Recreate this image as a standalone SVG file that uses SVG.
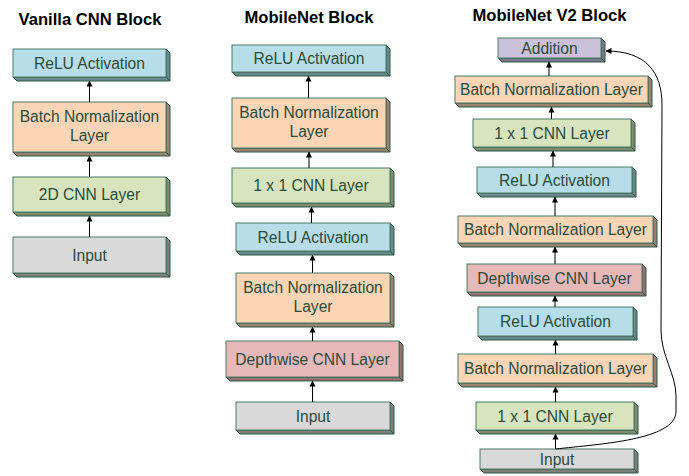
<svg xmlns="http://www.w3.org/2000/svg" width="689" height="476" viewBox="0 0 689 476">
  <defs>
    <marker id="arrow" markerWidth="6" markerHeight="7" refX="5.5" refY="3.5" orient="auto" markerUnits="userSpaceOnUse">
      <path d="M0,0.5 L6,3.5 L0,6.5 Z" fill="#000"/>
    </marker>
  </defs>
  <style>
    .title { font-family: "Liberation Sans", Arial, sans-serif; font-weight: bold; font-size: 16.6px; fill: #000; text-anchor: middle; }
    .lbl { font-family: "Liberation Sans", Arial, sans-serif; font-size: 15.6px; fill: #2b4b3b; text-anchor: middle; }
    .face { stroke: #4a7a66; stroke-width: 1; }
    .side { stroke: #2d5844; stroke-width: 1; stroke-linejoin: round; }
    .relu .face { fill: #b7dde8; } .relu .side { fill: #68898c; }
    .bn .face { fill: #fbd5b6; } .bn .side { fill: #9a8270; }
    .cnn .face { fill: #d7e4bd; } .cnn .side { fill: #7d8c6c; }
    .inp .face { fill: #d9d9d9; } .inp .side { fill: #7e807c; }
    .dw .face { fill: #e6b9b8; } .dw .side { fill: #93716e; }
    .add .face { fill: #ccc1da; } .add .side { fill: #7b7789; }
    .conn line, .conn path { stroke: #000; stroke-width: 1; fill: none; }
  </style>

  <!-- column titles -->
  <text class="title" x="90" y="25">Vanilla CNN Block</text>
  <text class="title" x="309" y="22.5">MobileNet Block</text>
  <text class="title" x="549.5" y="20.5">MobileNet V2 Block</text>

  <!-- Vanilla CNN block -->
  <g id="v-relu" class="relu">
    <polygon class="side" points="166,49 170,53 170,81 166,77"/>
    <polygon class="side" points="13,77 166,77 170,81 17,81"/>
    <rect class="face" x="13" y="49" width="153" height="28"/>
    <text class="lbl" x="89.5" y="68.5">ReLU Activation</text>
  </g>
  <g id="v-bn" class="bn">
    <polygon class="side" points="166,102 170,106 170,156 166,152"/>
    <polygon class="side" points="13,152 166,152 170,156 17,156"/>
    <rect class="face" x="13" y="102" width="153" height="50"/>
    <text class="lbl" x="89.5" y="122">Batch Normalization</text>
    <text class="lbl" x="89.5" y="140.5">Layer</text>
  </g>
  <g id="v-cnn" class="cnn">
    <polygon class="side" points="166,177 170,181 170,216 166,212"/>
    <polygon class="side" points="13,212 166,212 170,216 17,216"/>
    <rect class="face" x="13" y="177" width="153" height="35"/>
    <text class="lbl" x="89.5" y="200">2D CNN Layer</text>
  </g>
  <g id="v-input" class="inp">
    <polygon class="side" points="166,237 170,241 170,277 166,273"/>
    <polygon class="side" points="13,273 166,273 170,277 17,277"/>
    <rect class="face" x="13" y="237" width="153" height="36"/>
    <text class="lbl" x="89.5" y="260.5">Input</text>
  </g>

  <!-- MobileNet block -->
  <g id="m-relu" class="relu">
    <polygon class="side" points="386,45 390,49 390,76 386,72"/>
    <polygon class="side" points="232,72 386,72 390,76 236,76"/>
    <rect class="face" x="232" y="45" width="154" height="27"/>
    <text class="lbl" x="309" y="64">ReLU Activation</text>
  </g>
  <g id="m-bn" class="bn">
    <polygon class="side" points="386,98 390,102 390,152 386,148"/>
    <polygon class="side" points="232,148 386,148 390,152 236,152"/>
    <rect class="face" x="232" y="98" width="154" height="50"/>
    <text class="lbl" x="309" y="118">Batch Normalization</text>
    <text class="lbl" x="309" y="136.5">Layer</text>
  </g>
  <g id="m-pw" class="cnn">
    <polygon class="side" points="390,168 394,172 394,207 390,203"/>
    <polygon class="side" points="232,203 390,203 394,207 236,207"/>
    <rect class="face" x="232" y="168" width="158" height="35"/>
    <text class="lbl" x="311" y="191">1 x 1 CNN Layer</text>
  </g>
  <g id="m-relu2" class="relu">
    <polygon class="side" points="390,223 394,227 394,255 390,251"/>
    <polygon class="side" points="236,251 390,251 394,255 240,255"/>
    <rect class="face" x="236" y="223" width="154" height="28"/>
    <text class="lbl" x="313" y="242.5">ReLU Activation</text>
  </g>
  <g id="m-bn2" class="bn">
    <polygon class="side" points="390,273 394,277 394,327 390,323"/>
    <polygon class="side" points="236,323 390,323 394,327 240,327"/>
    <rect class="face" x="236" y="273" width="154" height="50"/>
    <text class="lbl" x="313" y="293">Batch Normalization</text>
    <text class="lbl" x="313" y="311.5">Layer</text>
  </g>
  <g id="m-dw" class="dw">
    <polygon class="side" points="399,341 403,345 403,381 399,377"/>
    <polygon class="side" points="226,377 399,377 403,381 230,381"/>
    <rect class="face" x="226" y="341" width="173" height="36"/>
    <text class="lbl" x="312.5" y="364.5">Depthwise CNN Layer</text>
  </g>
  <g id="m-input" class="inp">
    <polygon class="side" points="390,402 394,406 394,434 390,430"/>
    <polygon class="side" points="236,430 390,430 394,434 240,434"/>
    <rect class="face" x="236" y="402" width="154" height="28"/>
    <text class="lbl" x="313" y="421.5">Input</text>
  </g>

  <!-- MobileNet V2 block -->
  <g id="v2-add" class="add">
    <polygon class="side" points="601,38 605,42 605,62 601,58"/>
    <polygon class="side" points="498,58 601,58 605,62 502,62"/>
    <rect class="face" x="498" y="38" width="103" height="20"/>
    <text class="lbl" x="549.5" y="53.5">Addition</text>
  </g>
  <g id="v2-bn1" class="bn">
    <polygon class="side" points="648,76 652,80 652,107 648,103"/>
    <polygon class="side" points="455,103 648,103 652,107 459,107"/>
    <rect class="face" x="455" y="76" width="193" height="27"/>
    <text class="lbl" x="551.5" y="95">Batch Normalization Layer</text>
  </g>
  <g id="v2-pw1" class="cnn">
    <polygon class="side" points="631,119 635,123 635,151 631,147"/>
    <polygon class="side" points="473,147 631,147 635,151 477,151"/>
    <rect class="face" x="473" y="119" width="158" height="28"/>
    <text class="lbl" x="552" y="138.5">1 x 1 CNN Layer</text>
  </g>
  <g id="v2-relu1" class="relu">
    <polygon class="side" points="632,167 636,171 636,197 632,193"/>
    <polygon class="side" points="477,193 632,193 636,197 481,197"/>
    <rect class="face" x="477" y="167" width="155" height="26"/>
    <text class="lbl" x="554.5" y="185.5">ReLU Activation</text>
  </g>
  <g id="v2-bn2" class="bn">
    <polygon class="side" points="653,216 657,220 657,247 653,243"/>
    <polygon class="side" points="458,243 653,243 657,247 462,247"/>
    <rect class="face" x="458" y="216" width="195" height="27"/>
    <text class="lbl" x="555.5" y="235">Batch Normalization Layer</text>
  </g>
  <g id="v2-dw" class="dw">
    <polygon class="side" points="642,264 646,268 646,296 642,292"/>
    <polygon class="side" points="467,292 642,292 646,296 471,296"/>
    <rect class="face" x="467" y="264" width="175" height="28"/>
    <text class="lbl" x="554.5" y="283.5">Depthwise CNN Layer</text>
  </g>
  <g id="v2-relu2" class="relu">
    <polygon class="side" points="633,307 637,311 637,340 633,336"/>
    <polygon class="side" points="478,336 633,336 637,340 482,340"/>
    <rect class="face" x="478" y="307" width="155" height="29"/>
    <text class="lbl" x="555.5" y="327">ReLU Activation</text>
  </g>
  <g id="v2-bn3" class="bn">
    <polygon class="side" points="653,354 657,358 657,387 653,383"/>
    <polygon class="side" points="458,383 653,383 657,387 462,387"/>
    <rect class="face" x="458" y="354" width="195" height="29"/>
    <text class="lbl" x="555.5" y="374">Batch Normalization Layer</text>
  </g>
  <g id="v2-pw2" class="cnn">
    <polygon class="side" points="634,402 638,406 638,434 634,430"/>
    <polygon class="side" points="476,430 634,430 638,434 480,434"/>
    <rect class="face" x="476" y="402" width="158" height="28"/>
    <text class="lbl" x="555" y="421.5">1 x 1 CNN Layer</text>
  </g>
  <g id="v2-input" class="inp">
    <polygon class="side" points="634,449 638,453 638,473 634,469"/>
    <polygon class="side" points="480,469 634,469 638,473 484,473"/>
    <rect class="face" x="480" y="449" width="154" height="20"/>
    <text class="lbl" x="557" y="464.5">Input</text>
  </g>

  <!-- connectors -->
  <g id="connectors" class="conn">
    <line x1="89.5" y1="102" x2="89.5" y2="81" marker-end="url(#arrow)"/>
    <line x1="89.5" y1="177" x2="89.5" y2="156" marker-end="url(#arrow)"/>
    <line x1="89.5" y1="237" x2="89.5" y2="216" marker-end="url(#arrow)"/>

    <line x1="308.5" y1="98" x2="308.5" y2="76" marker-end="url(#arrow)"/>
    <line x1="309" y1="168" x2="309" y2="152" marker-end="url(#arrow)"/>
    <line x1="311.5" y1="223" x2="311.5" y2="207" marker-end="url(#arrow)"/>
    <line x1="312.5" y1="273" x2="312.5" y2="255" marker-end="url(#arrow)"/>
    <line x1="312.5" y1="341" x2="312.5" y2="327" marker-end="url(#arrow)"/>
    <line x1="312.5" y1="402" x2="312.5" y2="381" marker-end="url(#arrow)"/>

    <line x1="549" y1="76" x2="549" y2="62" marker-end="url(#arrow)"/>
    <line x1="551.5" y1="119" x2="551.5" y2="107" marker-end="url(#arrow)"/>
    <line x1="553" y1="167" x2="553" y2="151" marker-end="url(#arrow)"/>
    <line x1="555" y1="216" x2="555" y2="197" marker-end="url(#arrow)"/>
    <line x1="555" y1="264" x2="555" y2="247" marker-end="url(#arrow)"/>
    <line x1="555" y1="307" x2="555" y2="296" marker-end="url(#arrow)"/>
    <line x1="555.5" y1="354" x2="555.5" y2="340" marker-end="url(#arrow)"/>
    <line x1="555.5" y1="402" x2="555.5" y2="387" marker-end="url(#arrow)"/>
    <line x1="555.5" y1="449" x2="555.5" y2="434" marker-end="url(#arrow)"/>

    <!-- residual shortcut from input to addition -->
    <path d="M555.5,449 C600,444 675,440 676,412 L676,396 C676,374 661,356 661,330 L662,105 C662,72 646,51 606,51" marker-end="url(#arrow)"/>
  </g>
</svg>
